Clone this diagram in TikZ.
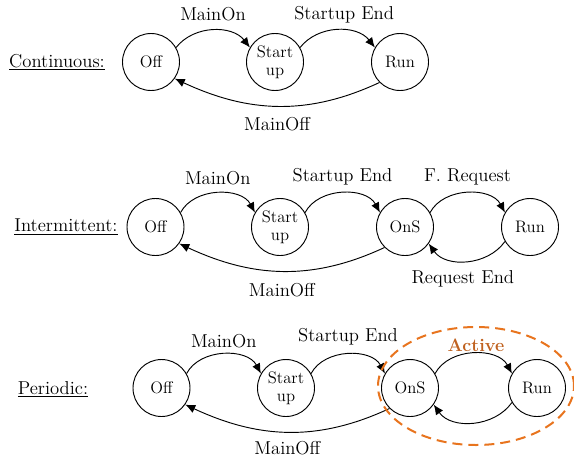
\documentclass[tikz,border=0pt]{standalone}
\usetikzlibrary{arrows.meta,shapes.geometric}
\definecolor{actorange}{RGB}{232,116,30}
\definecolor{acttext}{RGB}{192,98,32}
\begin{document}
\begin{tikzpicture}[x=0.75pt,y=0.75pt,
  state/.style={circle,draw,line width=0.7pt,minimum size=42.75pt,inner sep=0pt,
    font=\fontsize{12.5}{13.5}\selectfont,align=center},
  trans/.style={line width=0.7pt,-{Latex[length=7.5pt,width=6.5pt]}},
  lbl/.style={font=\fontsize{14}{16}\selectfont},
  rowlbl/.style={font=\fontsize{14}{16}\selectfont},
  uparc/.style={out=#1,in=180-#1},
  group/.style={draw=actorange,line width=1.5pt,dash pattern=on 7.5pt off 4.5pt}]
\useasboundingbox (0,0) rectangle (574,-461);

% ---------- Continuous ----------
\node[rowlbl] (lc) at (57,-62) {\underline{Continuous:}};
\node[state] (off1) at (151,-62) {Off};
\node[state] (su1)  at (275,-62) {Start\\up};
\node[state] (run1) at (400,-62) {Run};
\draw[trans] (off1.30) to[uparc=52] node[lbl,yshift=12pt] {MainOn} (su1.150);
\draw[trans] (su1.30) to[uparc=52] node[lbl,yshift=12pt,xshift=5pt] {Startup End} (run1.150);
\draw[trans] (run1.225) to[out=205,in=-25] node[lbl,yshift=-13.5pt] {MainOff} (off1.-35);

% ---------- Intermittent ----------
\node[rowlbl] (li) at (66,-227) {\underline{Intermittent:}};
\node[state] (off2) at (155.5,-227) {Off};
\node[state] (su2)  at (280,-227) {Start\\up};
\node[state] (ons2) at (405,-227) {OnS};
\node[state] (run2) at (530,-227) {Run};
\draw[trans] (off2.30) to[uparc=62] node[lbl,yshift=11.5pt] {MainOn} (su2.150);
\draw[trans] (su2.30) to[uparc=62] node[lbl,yshift=12.5pt] {Startup End} (ons2.150);
\draw[trans] (ons2.30) to[uparc=62] node[lbl,yshift=12pt] {F. Request} (run2.150);
\draw[trans] (run2.210) to[out=235,in=-55] node[lbl,yshift=-13.5pt,xshift=-3pt] {Request End} (ons2.-35);
\draw[trans] (ons2.225) to[out=205,in=-25] node[lbl,yshift=-14pt] {MainOff} (off2.-35);

% ---------- Periodic ----------
\node[rowlbl] (lp) at (53,-389) {\underline{Periodic:}};
\node[state] (off3) at (161.5,-388) {Off};
\node[state] (su3)  at (286,-388) {Start\\up};
\node[state] (ons3) at (410,-388) {OnS};
\node[state] (run3) at (537,-388) {Run};
\draw[trans] (off3.30) to[uparc=62] node[lbl,yshift=10pt] {MainOn} (su3.150);
\draw[trans] (su3.30) to[uparc=62] node[lbl,yshift=13pt] {Startup End} (ons3.150);
\draw[trans] (ons3.30) to[uparc=62] (run3.150);
\draw[trans] (run3.210) to[out=235,in=-55] (ons3.-35);
\draw[trans] (ons3.225) to[out=205,in=-25] node[lbl,yshift=-12pt] {MainOff} (off3.-35);

% active group
\node[group,ellipse,minimum width=147pt,minimum height=88.5pt,inner sep=0pt] (act) at (476,-386) {};
\node[font=\fontsize{13.5}{16}\selectfont\bfseries,text=acttext] (actl) at (476,-345) {Active};
\end{tikzpicture}
\end{document}
